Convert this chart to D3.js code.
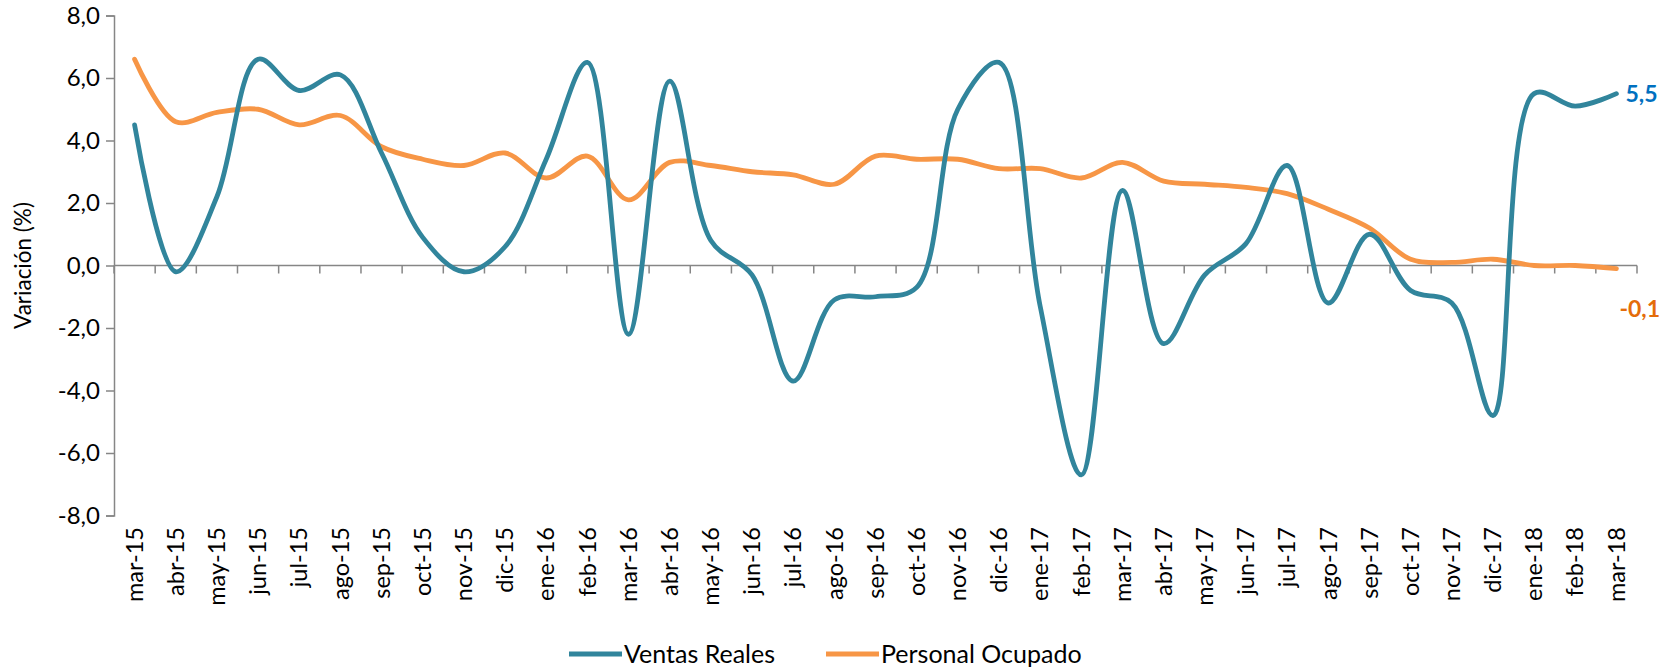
<!DOCTYPE html>
<html>
<head>
<meta charset="utf-8">
<script src="https://cdn.jsdelivr.net/npm/d3@7"></script>
<style>
  body { margin: 0; background: #fff; }
  svg text { font-family: Lato, "Open Sans", sans-serif; fill: #000; }
</style>
</head>
<body>
<svg id="chart" width="1662" height="671"></svg>
<script>
// meses (categorias)
var months = ["mar-15","abr-15","may-15","jun-15","jul-15","ago-15","sep-15","oct-15","nov-15","dic-15",
  "ene-16","feb-16","mar-16","abr-16","may-16","jun-16","jul-16","ago-16","sep-16","oct-16","nov-16","dic-16",
  "ene-17","feb-17","mar-17","abr-17","may-17","jun-17","jul-17","ago-17","sep-17","oct-17","nov-17","dic-17",
  "ene-18","feb-18","mar-18"];

var ventasReales = [4.5,-0.2,2.2,6.6,5.6,6.1,3.6,0.9,-0.2,0.6,
  3.4,6.5,-2.2,5.9,0.8,-0.3,-3.7,-1.1,-1.0,-0.7,5.0,6.5,
  -1.3,-6.7,2.4,-2.5,-0.3,0.7,3.2,-1.2,1.0,-0.8,-1.2,-4.8,
  5.5,5.1,5.5];

var personalOcupado = [6.6,4.6,4.9,5.0,4.5,4.8,3.8,3.4,3.2,3.6,
  2.8,3.5,2.1,3.3,3.2,3.0,2.9,2.6,3.5,3.4,3.4,3.1,
  3.1,2.8,3.3,2.7,2.6,2.5,2.3,1.8,1.2,0.2,0.1,0.2,
  0.0,0.0,-0.1];

var yTicks = [-8,-6,-4,-2,0,2,4,6,8];

var svg = d3.select("#chart");
var plotL = 114, plotR = 1637, plotT = 15.5, plotB = 515.5;

var x = d3.scaleBand().domain(months).range([plotL, plotR]);
var y = d3.scaleLinear().domain([-8, 8]).range([plotB, plotT]);
var fmt = function(v) { return d3.format(".1f")(v).replace(".", ",").replace("−", "-"); };

var axisColor = "#868686";

// eje y
var yAxis = svg.append("g").attr("transform", "translate(" + plotL + ",0)")
  .call(d3.axisLeft(y).tickValues(yTicks).tickSize(8).tickFormat(fmt));
yAxis.select(".domain").attr("stroke", axisColor).attr("stroke-width", 1.5);
yAxis.selectAll(".tick line").attr("stroke", axisColor).attr("stroke-width", 1.5);
yAxis.selectAll(".tick text").attr("x", -14).attr("font-size", 24).attr("fill", "#000");

// eje x en cero, marcas entre categorias
var xAxisG = svg.append("g");
xAxisG.append("line")
  .attr("x1", plotL).attr("x2", plotR).attr("y1", y(0)).attr("y2", y(0))
  .attr("stroke", axisColor).attr("stroke-width", 1.5);
xAxisG.selectAll(".tk").data(d3.range(months.length + 1)).enter().append("line")
  .attr("x1", function(i) { return plotL + i * x.step(); })
  .attr("x2", function(i) { return plotL + i * x.step(); })
  .attr("y1", y(0)).attr("y2", y(0) + 8)
  .attr("stroke", axisColor).attr("stroke-width", 1.5);

svg.append("g").selectAll("text").data(months).enter().append("text")
  .attr("transform", function(d) { return "translate(" + (x(d) + x.bandwidth() / 2) + ",527) rotate(-90)"; })
  .attr("text-anchor", "end")
  .attr("dy", "0.35em")
  .attr("font-size", 23.5)
  .text(function(d) { return d; });

// titulo eje y
svg.append("text")
  .attr("transform", "translate(23," + y(0) + ") rotate(-90)")
  .attr("text-anchor", "middle")
  .attr("dy", "0.35em")
  .attr("font-size", 22.5)
  .text("Variación (%)");

// lineas suavizadas
var line = d3.line()
  .x(function(d, i) { return x(months[i]) + x.bandwidth() / 2; })
  .y(function(d) { return y(d); })
  .curve(d3.curveCatmullRom.alpha(0.5));

var series = [
  { name: "Ventas Reales", values: ventasReales, color: "#31859C" },
  { name: "Personal Ocupado", values: personalOcupado, color: "#F79646" }
];

svg.append("path").datum(personalOcupado)
  .attr("d", line).attr("fill", "none")
  .attr("stroke", "#F79646").attr("stroke-width", 4.8).attr("stroke-linecap", "round");
svg.append("path").datum(ventasReales)
  .attr("d", line).attr("fill", "none")
  .attr("stroke", "#31859C").attr("stroke-width", 4.8).attr("stroke-linecap", "round");

// etiquetas del ultimo valor
var lastX = x(months[months.length - 1]) + x.bandwidth() / 2;
svg.append("text")
  .attr("x", lastX + 9).attr("y", y(ventasReales[ventasReales.length - 1]))
  .attr("dy", "0.35em").attr("font-size", 23).attr("font-weight", "bold")
  .style("fill", "#0070C0")
  .text(fmt(ventasReales[ventasReales.length - 1]));
svg.append("text")
  .attr("x", lastX + 3).attr("y", y(personalOcupado[personalOcupado.length - 1]) + 40)
  .attr("dy", "0.35em").attr("font-size", 23).attr("font-weight", "bold")
  .style("fill", "#E46C0A")
  .text(fmt(personalOcupado[personalOcupado.length - 1]));

// leyenda
var legendX = [569, 826];
var leg = svg.append("g").selectAll("g").data(series).enter().append("g")
  .attr("transform", function(d, i) { return "translate(" + legendX[i] + ",654)"; });
leg.append("line").attr("x1", 0).attr("x2", 53).attr("y1", 0).attr("y2", 0)
  .attr("stroke", function(d) { return d.color; }).attr("stroke-width", 5);
leg.append("text").attr("x", 55).attr("dy", "0.35em").attr("font-size", 25)
  .text(function(d) { return d.name; });
</script>
</body>
</html>
